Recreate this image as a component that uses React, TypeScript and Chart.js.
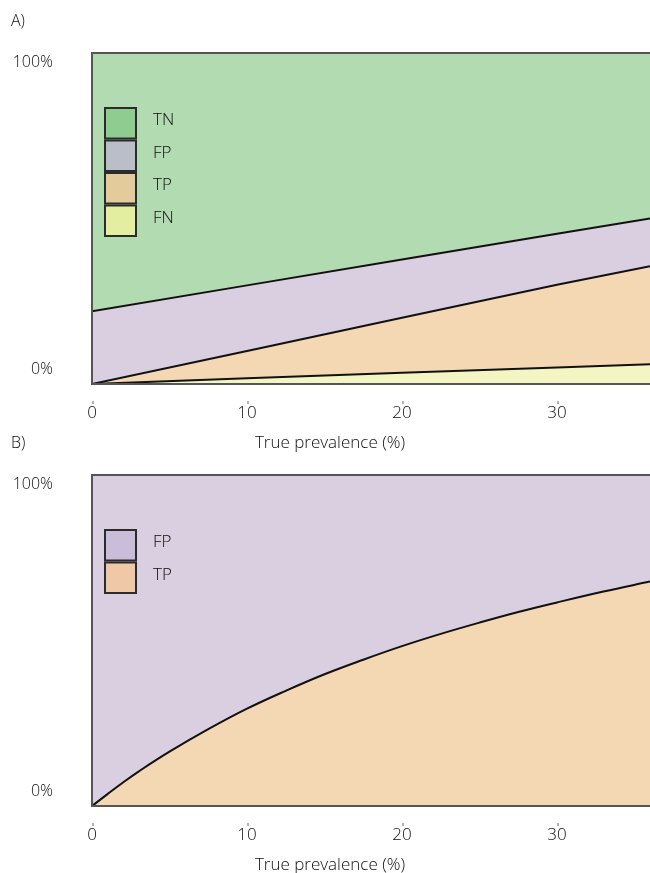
import React, { useEffect, useRef } from 'react';
import { Chart, registerables } from 'chart.js';

Chart.register(...registerables);

// ---------- data ----------
const PREV_A = [0, 10, 20, 30, 36];
const FN_A = [0, 1.7, 3.4, 5.0, 6.0];
const TP_A = [0, 8.3, 16.6, 25.0, 29.6];
const FP_A = [22, 19.8, 17.6, 15.4, 14.4];
const TN_A = [78, 70.2, 62.4, 54.6, 50];

const PREV_B = [0, 1, 2, 3, 5, 7.5, 10, 12.5, 15, 17.5, 20, 22.5, 25, 27.5, 30, 33, 36];
const TP_B = [0, 3.6, 7.1, 10.4, 16.4, 23.2, 29.4, 34.8, 39.8, 44.2, 48.3, 52.0, 55.4, 58.6, 61.5, 64.8, 67.8];
const FP_B = [100, 96.4, 92.9, 89.6, 83.6, 76.8, 70.6, 65.2, 60.2, 55.8, 51.7, 48.0, 44.6, 41.4, 38.5, 35.2, 32.2];

const X_TICKS = [0, 10, 20, 30];
const X_MIN = 0;
const X_MAX = 36;
const Y_MIN = 0;
const Y_MAX = 100;
const Y_LABEL_TOP = '100%';
const Y_LABEL_BOTTOM = '0%';
const X_TITLE = 'True prevalence (%)';

// ---------- styles ----------
const FONT = '"Open Sans", "DejaVu Sans", sans-serif';
const WEIGHT = '300';
const TEXT = '#0d0d0d';
const AREA = { TN: '#b3dbb1', FP: '#d9cfe0', TP: '#f4d8b4', FN: '#f3f5c2' };
const LEG_A = { TN: '#8fcc8f', FP: '#b9bec8', TP: '#e4cb9b', FN: '#e3eea1' };
const LEG_B = { FP: '#c9bdd9', TP: '#efc9a7' };

const pts = (xs: number[], ys: number[]) => xs.map((x, i) => ({ x, y: ys[i] }));

const decor = {
  id: 'decor',
  afterDraw(chart: any, _args: any, opts: any) {
    const { ctx, chartArea: a, scales } = chart;
    const x = scales.x;
    const y = scales.y;
    ctx.save();
    // frame
    ctx.strokeStyle = '#555';
    ctx.lineWidth = 2;
    ctx.beginPath();
    ctx.moveTo(a.right + 5, a.top);
    ctx.lineTo(a.left, a.top);
    ctx.lineTo(a.left, a.bottom);
    ctx.lineTo(a.right + 5, a.bottom);
    ctx.stroke();
    // tick dots
    ctx.strokeStyle = '#999';
    ctx.lineWidth = 1.5;
    X_TICKS.forEach((v) => {
      const px = x.getPixelForValue(v) + 1;
      ctx.beginPath();
      ctx.moveTo(px, a.bottom + 17);
      ctx.lineTo(px, a.bottom + 20);
      ctx.stroke();
    });
    ctx.fillStyle = TEXT;
    ctx.textBaseline = 'middle';
    // axis title (centred under the visible part of the original, wider plot)
    ctx.font = `${WEIGHT} 17px ${FONT}`;
    ctx.textAlign = 'center';
    ctx.fillText(X_TITLE, 330, a.bottom + 59);
    // y labels
    ctx.font = `${WEIGHT} 16px ${FONT}`;
    ctx.textAlign = 'right';
    ctx.fillText(Y_LABEL_TOP, 53, y.getPixelForValue(Y_MAX) + 9);
    ctx.fillText(Y_LABEL_BOTTOM, 53, y.getPixelForValue(Y_MIN) - 15);
    // panel label
    ctx.textAlign = 'left';
    ctx.fillText(opts.panel, 11, 21);
    // legend (top dataset first)
    ctx.font = `${WEIGHT} 17px ${FONT}`;
    const ds = chart.data.datasets.slice().reverse();
    const bx = 105;
    const by = 108;
    const bw = 31;
    const pitch = 32.5;
    ds.forEach((d: any, i: number) => {
      const top = by + i * pitch;
      ctx.fillStyle = d.legendColor;
      ctx.fillRect(bx, top, bw, pitch - 2);
      ctx.strokeStyle = '#2b2b2b';
      ctx.lineWidth = 2;
      ctx.strokeRect(bx, top, bw, pitch - 2);
      ctx.fillStyle = TEXT;
      ctx.fillText(d.label, 153, top + pitch / 2 - 4);
    });
    ctx.restore();
  },
};

function makeOptions(panel: string) {
  return {
    animation: false,
    responsive: false,
    maintainAspectRatio: false,
    layout: { padding: { left: 92, top: 53, right: 0, bottom: 0 } },
    elements: { point: { radius: 0 }, line: { tension: 0 } },
    plugins: {
      legend: { display: false },
      tooltip: { enabled: false },
      decor: { panel },
    },
    scales: {
      x: {
        type: 'linear',
        min: X_MIN,
        max: X_MAX,
        grid: { display: false, drawTicks: false },
        border: { display: false },
        afterBuildTicks: (s: any) => {
          s.ticks = X_TICKS.map((v) => ({ value: v }));
        },
        afterFit: (s: any) => {
          s.height = 76;
        },
        ticks: { padding: 19, color: TEXT, font: { family: FONT, size: 17, weight: WEIGHT } },
        title: { display: false },
      },
      y: { display: false, stacked: true, min: Y_MIN, max: Y_MAX },
    },
  };
}

function configA(): any {
  return {
    type: 'line',
    data: {
      datasets: [
        { label: 'FN', data: pts(PREV_A, FN_A), backgroundColor: AREA.FN, legendColor: LEG_A.FN, borderColor: '#111', borderWidth: 2, fill: 'origin' },
        { label: 'TP', data: pts(PREV_A, TP_A), backgroundColor: AREA.TP, legendColor: LEG_A.TP, borderColor: '#111', borderWidth: 2, fill: '-1' },
        { label: 'FP', data: pts(PREV_A, FP_A), backgroundColor: AREA.FP, legendColor: LEG_A.FP, borderColor: '#111', borderWidth: 2, fill: '-1' },
        { label: 'TN', data: pts(PREV_A, TN_A), backgroundColor: AREA.TN, legendColor: LEG_A.TN, borderColor: 'rgba(0,0,0,0)', borderWidth: 0, fill: '-1' },
      ],
    },
    options: makeOptions('A)'),
    plugins: [decor],
  };
}

function configB(): any {
  return {
    type: 'line',
    data: {
      datasets: [
        { label: 'TP', data: pts(PREV_B, TP_B), backgroundColor: AREA.TP, legendColor: LEG_B.TP, borderColor: '#111', borderWidth: 2, fill: 'origin', tension: 0.4 },
        { label: 'FP', data: pts(PREV_B, FP_B), backgroundColor: AREA.FP, legendColor: LEG_B.FP, borderColor: 'rgba(0,0,0,0)', borderWidth: 0, fill: '-1', tension: 0.4 },
      ],
    },
    options: makeOptions('B)'),
    plugins: [decor],
  };
}

function Panel({ make, top }: { make: () => any; top: number }) {
  const ref = useRef<HTMLCanvasElement | null>(null);
  useEffect(() => {
    const chart = new Chart(ref.current as HTMLCanvasElement, make());
    return () => chart.destroy();
  }, []);
  return (
    <div style={{ position: 'absolute', left: 0, top, width: 650, height: 460 }}>
      <canvas ref={ref} width={650} height={460} style={{ display: 'block', width: 650, height: 460 }} />
    </div>
  );
}

export default function App() {
  return (
    <div style={{ position: 'absolute', left: 0, top: 0, width: 650, height: 873, overflow: 'hidden', background: '#fff' }}>
      <Panel make={configA} top={0} />
      <Panel make={configB} top={422} />
    </div>
  );
}
